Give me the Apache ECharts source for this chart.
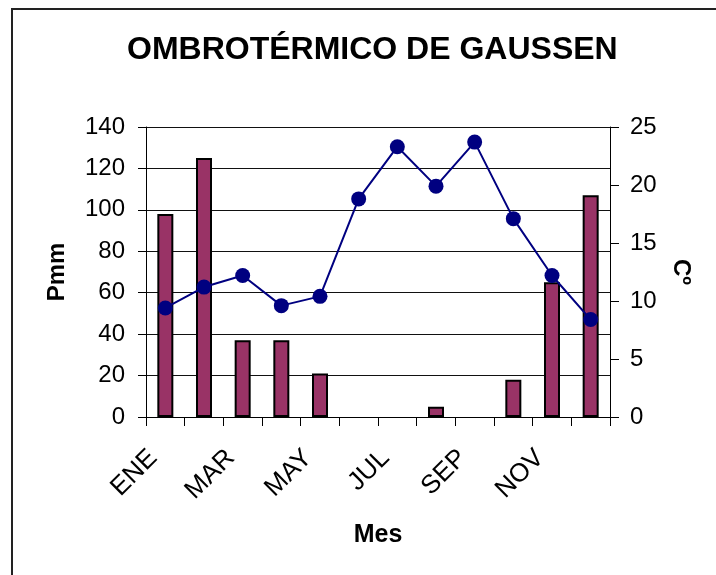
<!DOCTYPE html>
<html>
<head>
<meta charset="utf-8">
<script src="https://cdn.jsdelivr.net/npm/echarts@6/dist/echarts.min.js"></script>
<style>
  html, body { margin: 0; padding: 0; background: #fff; }
  #chart { width: 716px; height: 575px; }
</style>
</head>
<body>
<div id="chart"></div>
<script>
var meses = ['ENE', 'FEB', 'MAR', 'ABR', 'MAY', 'JUN', 'JUL', 'AGO', 'SEP', 'OCT', 'NOV', 'DIC'];
var precipitacion = [98, 125, 37, 37, 21, 0, 0, 5, 0, 18, 65, 107];
var temperatura = [9.4, 11.2, 12.2, 9.6, 10.4, 18.8, 23.3, 19.9, 23.7, 17.1, 12.2, 8.4];

var fuente = "'Liberation Sans', Arial, sans-serif";

var chart = echarts.init(document.getElementById('chart'));

// los meses sin lluvia no llevan barra (ni siquiera el borde)
var barras = precipitacion.map(function (v) { return v === 0 ? '-' : v; });

var option = {
  backgroundColor: '#fff',
  animation: false,
  textStyle: { fontFamily: fuente, color: '#000' },
  title: {
    text: 'OMBROTÉRMICO DE GAUSSEN',
    left: 122,
    top: 29,
    textStyle: { fontFamily: fuente, fontSize: 32, fontWeight: 'bold', color: '#000' }
  },
  graphic: [{
    type: 'rect',
    shape: { x: 12, y: 9, width: 730, height: 600 },
    style: { fill: 'none', stroke: '#222', lineWidth: 2 },
    silent: true
  }],
  grid: { left: 146, right: 106, top: 127, bottom: 158 },
  xAxis: {
    type: 'category',
    data: meses,
    boundaryGap: true,
    name: 'Mes',
    nameLocation: 'middle',
    nameGap: 106,
    nameTextStyle: { fontFamily: fuente, fontSize: 25, fontWeight: 'bold', color: '#000' },
    axisLine: { lineStyle: { color: '#000', width: 1 } },
    axisTick: { show: true, interval: 0, length: 9, lineStyle: { color: '#000' } },
    axisLabel: {
      interval: 1,
      rotate: 45,
      margin: 25,
      padding: [0, 17, 0, 0],
      fontFamily: fuente,
      fontSize: 26,
      color: '#000'
    }
  },
  yAxis: [{
    type: 'value',
    min: 0,
    max: 140,
    interval: 20,
    name: 'Pmm',
    nameLocation: 'middle',
    nameRotate: 90,
    nameGap: 77,
    nameTextStyle: { fontFamily: fuente, fontSize: 24, fontWeight: 'bold', color: '#000' },
    axisLine: { show: true, lineStyle: { color: '#000', width: 1 } },
    axisTick: { show: true, length: 8, lineStyle: { color: '#000' } },
    axisLabel: { margin: 21, fontFamily: fuente, fontSize: 24, color: '#000' },
    splitLine: { show: true, lineStyle: { color: '#111', width: 1 } }
  }, {
    type: 'value',
    min: 0,
    max: 25,
    interval: 5,
    position: 'right',
    name: 'Cº',
    nameLocation: 'middle',
    nameRotate: -90,
    nameGap: 59,
    nameTextStyle: { fontFamily: fuente, fontSize: 24, fontWeight: 'bold', color: '#000' },
    axisLine: { show: true, lineStyle: { color: '#000', width: 1 } },
    axisTick: { show: true, length: 9, lineStyle: { color: '#000' } },
    axisLabel: { margin: 20, fontFamily: fuente, fontSize: 24, color: '#000' },
    splitLine: { show: false }
  }],
  series: [{
    name: 'Precipitación',
    type: 'bar',
    yAxisIndex: 0,
    data: barras,
    barWidth: 16,
    itemStyle: { color: '#993366', borderColor: '#000', borderWidth: 2 }
  }, {
    name: 'Temperatura',
    type: 'line',
    yAxisIndex: 1,
    data: temperatura,
    symbol: 'circle',
    symbolSize: 15,
    lineStyle: { color: '#000080', width: 2 },
    itemStyle: { color: '#000080' }
  }]
};

chart.setOption(option);
</script>
</body>
</html>
